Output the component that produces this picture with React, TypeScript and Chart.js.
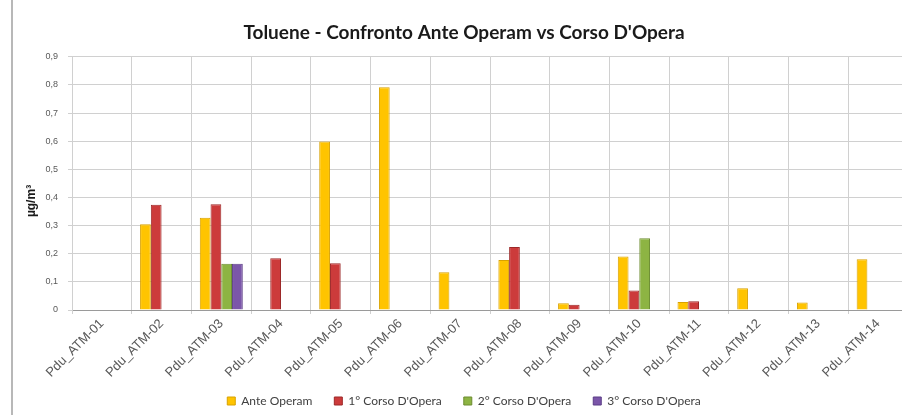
import React, { useEffect, useRef } from "react";
import { Chart, registerables } from "chart.js";

Chart.register(...registerables);

const categories = [
  "Pdu_ATM-01", "Pdu_ATM-02", "Pdu_ATM-03", "Pdu_ATM-04", "Pdu_ATM-05", "Pdu_ATM-06", "Pdu_ATM-07",
  "Pdu_ATM-08", "Pdu_ATM-09", "Pdu_ATM-10", "Pdu_ATM-11", "Pdu_ATM-12", "Pdu_ATM-13", "Pdu_ATM-14",
];
const anteOperam = [null, 0.305, 0.328, null, 0.599, 0.792, 0.134, 0.178, 0.024, 0.19, 0.028, 0.077, 0.027, 0.18];
const corso1 = [null, 0.374, 0.376, 0.184, 0.166, null, null, 0.224, 0.019, 0.069, 0.031, null, null, null];
const corso2 = [null, null, 0.164, null, null, null, null, null, null, 0.255, null, null, null, null];
const corso3 = [null, null, 0.164, null, null, null, null, null, null, null, null, null, null, null];
const seriesNames = ["Ante Operam", "1° Corso D'Opera", "2° Corso D'Opera", "3° Corso D'Opera"];
const yTicks = [0, 0.1, 0.2, 0.3, 0.4, 0.5, 0.6, 0.7, 0.8, 0.9];
const yTitle = "µg/m³";
const chartTitle = "Toluene - Confronto Ante Operam vs Corso D'Opera";

const fills = ["#FFC400", "#CC3B3B", "#8DB443", "#7B56A9"];
const borders = ["#D9A200", "#9C2828", "#6C8C30", "#5B3C86"];

const LEGEND_PAD = 22;
const LEGEND_FONT = 12;

export default function App() {
  const ref = useRef<HTMLCanvasElement | null>(null);
  useEffect(() => {
    if (!ref.current) return;
    const frame = {
      id: "frame",
      beforeLayout(chart: any) {
        const l = chart.legend;
        if (l && !l._patched) {
          const orig = l.fit.bind(l);
          l.fit = function () {
            orig();
            this.height = 35;
          };
          l._patched = true;
        }
      },
      afterLayout(chart: any) {
        const l = chart.legend;
        if (l) {
          const h = l.height;
          l.top = 401 - LEGEND_PAD - LEGEND_FONT / 2;
          l.bottom = l.top + h;
        }
      },
      beforeDraw(chart: any) {
        const ctx = chart.ctx;
        ctx.save();
        ctx.fillStyle = "#ffffff";
        ctx.fillRect(0, 0, chart.width, chart.height);
        ctx.strokeStyle = "#b8b8b8";
        ctx.lineWidth = 2;
        ctx.beginPath();
        ctx.moveTo(12, 0);
        ctx.lineTo(12, chart.height);
        ctx.stroke();
        ctx.restore();
      },
      afterDraw(chart: any) {
        const ctx = chart.ctx;
        ctx.save();
        ctx.translate(32, 201);
        ctx.rotate(-Math.PI / 2);
        ctx.font = "bold 12px 'Liberation Sans'";
        ctx.fillStyle = "#1a1a1a";
        ctx.textAlign = "center";
        ctx.textBaseline = "middle";
        ctx.fillText(yTitle, 0, 0);
        ctx.restore();
      },
    };
    const data = [anteOperam, corso1, corso2, corso3];
    const chart = new Chart(ref.current, {
      type: "bar",
      data: {
        labels: categories,
        datasets: data.map((d, i) => ({
          label: seriesNames[i],
          data: d as any,
          backgroundColor: fills[i],
          borderColor: borders[i],
          borderWidth: 1,
          categoryPercentage: 0.72,
          barPercentage: 1,
        })),
      },
      options: {
        animation: false,
        responsive: false,
        layout: { padding: { left: 20, right: 4, top: 0, bottom: 0 } },
        plugins: {
          title: {
            display: true,
            text: chartTitle,
            font: { family: "Lato", size: 19, weight: "bold" },
            color: "#1a1a1a",
            padding: { top: 21, bottom: 13 },
          },
          legend: {
            position: "bottom",
            labels: {
              boxWidth: 8,
              boxHeight: 8,
              padding: LEGEND_PAD,
              color: "#404040",
              font: { family: "Lato", size: LEGEND_FONT },
            },
          },
          tooltip: { enabled: false },
        },
        scales: {
          x: {
            grid: { color: "#d0d0d0", offset: true, tickLength: 4 },
            border: { color: "#9a9a9a" },
            ticks: {
              maxRotation: 45,
              minRotation: 45,
              color: "#595959",
              font: { family: "Liberation Sans", size: 13 },
              padding: 2,
            },
            afterFit(scale: any) {
              scale.height = 70;
            },
          },
          y: {
            min: 0,
            max: 0.9,
            afterBuildTicks(scale: any) {
              scale.ticks = yTicks.map((v) => ({ value: v }));
            },
            grid: { color: "#d0d0d0", tickLength: 4 },
            border: { color: "#d0d0d0" },
            ticks: {
              color: "#595959",
              font: { family: "Liberation Sans", size: 9 },
              padding: 10,
              callback: (v: any) => String(Math.round(Number(v) * 10) / 10).replace(".", ","),
            },
            afterFit(scale: any) {
              scale.width = 52;
            },
          },
        },
      },
      plugins: [frame],
    });
    return () => chart.destroy();
  }, []);
  return (
    <div style={{ position: "fixed", left: 0, top: 0, width: 902, height: 415, overflow: "hidden", background: "#fff" }}>
      <canvas ref={ref} width={912} height={415} style={{ display: "block", width: 912, height: 415 }} />
    </div>
  );
}
